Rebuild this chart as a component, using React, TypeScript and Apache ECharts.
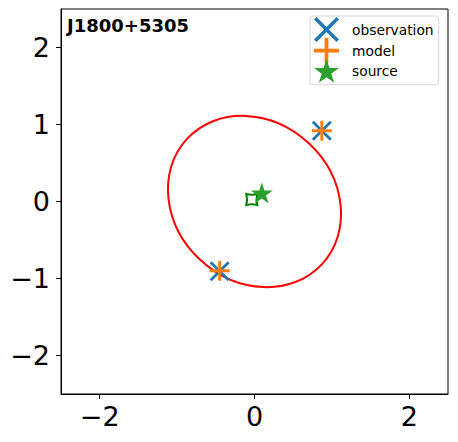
import React, { useEffect, useRef } from "react";
import * as echarts from "echarts";

const titleText = "J1800+5305";
const xTicks = [-2, 0, 2];
const yTicks = [-2, -1, 0, 1, 2];
const axisRange = [-2.5, 2.5];

const observation = [
  [-0.45, -0.905],
  [0.87, 0.92],
];
const model = [
  [-0.45, -0.9],
  [0.87, 0.92],
];
const source = [[0.095, 0.11]];
const sourceContour = [[-0.035, 0.025]];
// ellipse: [cx, cy, semiMajor, semiMinor, angleDeg]
const ellipse = [[0.0, 0.0, 1.19, 1.035, -43]];

const FONT = "DejaVu Sans";

const X_PATH =
  "path://M0,2 L2,0 L20,18 L18,20 Z M18,0 L20,2 L2,20 L0,18 Z";
const PLUS_PATH =
  "path://M0,8.5 L20,8.5 L20,11.5 L0,11.5 Z M8.5,0 L11.5,0 L11.5,20 L8.5,20 Z";
const STAR_PATH =
  "path://M10,0 L12.23,6.93 L19.51,6.91 L13.61,11.17 L15.88,18.09 L10,13.8 L4.12,18.09 L6.39,11.17 L0.49,6.91 L7.77,6.93 Z";
const CONTOUR_PATH =
  "path://M0,0 Q5,1.4 10,0 Q8.6,5 10,10 Q5,8.6 0,10 Q1.4,5 0,0 Z";

const fmt = (v: number) => (v < 0 ? "\u2212" + Math.abs(v) : String(v));

export default function App() {
  const ref = useRef<HTMLDivElement>(null);
  useEffect(() => {
    document.body.style.margin = "0";
    const chart = echarts.init(ref.current!, undefined, { renderer: "svg" });
    const axisCommon = {
      type: "value" as const,
      min: axisRange[0],
      max: axisRange[1],
      splitLine: { show: false },
      axisLine: { show: true, onZero: false, lineStyle: { color: "#000", width: 1 } },
    };
    chart.setOption({
      animation: false,
      backgroundColor: "#ffffff",
      title: {
        text: titleText,
        left: 67,
        top: 16,
        padding: 0,
        textStyle: { fontFamily: FONT, fontSize: 18, fontWeight: "bold", color: "#000" },
      },
      grid: {
        left: 61,
        top: 9,
        width: 387,
        height: 385,
        show: true,
        borderColor: "#000",
        borderWidth: 1,
        backgroundColor: "transparent",
      },
      legend: {
        orient: "vertical",
        left: 310,
        top: 16,
        padding: [1, 5, 2, 4],
        itemWidth: 25,
        itemHeight: 25,
        itemGap: -4,
        borderColor: "#d6d6d6",
        borderWidth: 1,
        borderRadius: 3,
        backgroundColor: "#fff",
        data: ["observation", "model", "source"],
        textStyle: { fontFamily: FONT, fontSize: 13.8, color: "#000", padding: [0, 0, 0, 8] },
      },
      xAxis: {
        ...axisCommon,
        axisTick: {
          show: true,
          inside: false,
          length: 5,
          lineStyle: { color: "#000", width: 1 },
          customValues: xTicks,
        },
        axisLabel: {
          customValues: xTicks,
          formatter: fmt,
          fontFamily: FONT,
          fontSize: 27,
          color: "#000",
          margin: 9,
        },
      },
      yAxis: {
        ...axisCommon,
        axisTick: {
          show: true,
          inside: false,
          length: 5,
          lineStyle: { color: "#000", width: 1 },
          customValues: yTicks,
        },
        axisLabel: {
          customValues: yTicks,
          formatter: fmt,
          fontFamily: FONT,
          fontSize: 27,
          color: "#000",
          margin: 11,
        },
      },
      series: [
        {
          type: "custom",
          name: "ellipse",
          data: ellipse,
          silent: true,
          renderItem: (params: any, api: any) => {
            const c = api.coord([api.value(0), api.value(1)]);
            const s = api.size([1, 1]);
            return {
              type: "ellipse",
              x: c[0],
              y: c[1],
              rotation: (api.value(4) * Math.PI) / 180,
              shape: { cx: 0, cy: 0, rx: api.value(2) * s[0], ry: api.value(3) * s[1] },
              style: { fill: "none", stroke: "#ff0000", lineWidth: 2 },
            };
          },
        },
        {
          type: "scatter",
          name: "observation",
          data: observation,
          symbol: X_PATH,
          symbolSize: 20,
          itemStyle: { color: "#1f77b4", opacity: 1 },
        },
        {
          type: "scatter",
          name: "model",
          data: model,
          symbol: PLUS_PATH,
          symbolSize: 20,
          itemStyle: { color: "#ff7f0e", opacity: 1 },
        },
        {
          type: "scatter",
          name: "contour",
          data: sourceContour,
          symbol: CONTOUR_PATH,
          symbolSize: 11,
          itemStyle: { color: "none", borderColor: "#008000", borderWidth: 2, opacity: 1 },
        },
        {
          type: "scatter",
          name: "source",
          data: source,
          symbol: STAR_PATH,
          symbolSize: 22,
          symbolKeepAspect: true,
          itemStyle: { color: "#2ca02c", opacity: 1 },
        },
      ],
    });
    return () => chart.dispose();
  }, []);
  return (
    <div
      ref={ref}
      style={{ position: "fixed", left: 0, top: 0, width: 458, height: 442 }}
    />
  );
}
